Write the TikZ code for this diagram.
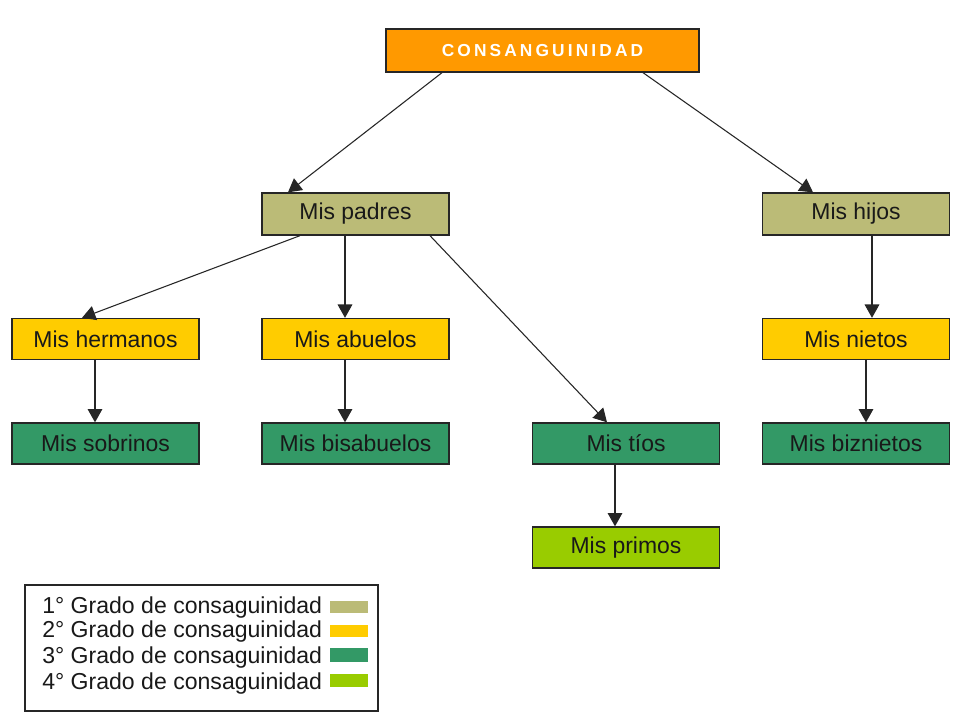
\documentclass[tikz,border=0pt]{standalone}
\usepackage{fontspec}
\setmainfont{Liberation Sans}
\usetikzlibrary{arrows.meta,calc}
\definecolor{cOrange}{RGB}{255,153,0}
\definecolor{cOlive}{RGB}{187,187,119}
\definecolor{cGold}{RGB}{255,204,0}
\definecolor{cGreen}{RGB}{51,153,102}
\definecolor{cLime}{RGB}{153,204,0}
\tikzset{
  box/.style={draw=black!85, line width=1pt, rectangle, minimum width=140.25pt,
    minimum height=30.75pt, inner sep=0pt, font=\fontsize{17.2}{20}\selectfont, text=black!90},
  conn/.style={draw=black!85, line width=0.8pt, -{Triangle[width=11pt,length=10pt]}},
  legtext/.style={anchor=base west, inner sep=0pt, font=\fontsize{17.3}{20}\selectfont, text=black!90},
}
\begin{document}
\begin{tikzpicture}[x=0.75pt,y=-0.75pt]
\useasboundingbox (0,0) rectangle (960,720);
\fill[white] (0,0) rectangle (960,720);
% nodes
\node[box, fill=cOrange, minimum width=234.75pt, minimum height=32.25pt,
  font=\fontsize{13}{15}\selectfont\bfseries\addfontfeature{LetterSpace=18}, text=white]
  (cons) at (542.5,50.5) {CONSANGUINIDAD};
\node[box, fill=cOlive, minimum height=31.5pt] (padres) at (355.5,214) {Mis padres};
\node[box, fill=cOlive, minimum height=31.5pt] (hijos) at (856,214) {Mis hijos};
\node[box, fill=cGold] (hermanos) at (105.5,339) {Mis hermanos};
\node[box, fill=cGold] (abuelos) at (355.5,339) {Mis abuelos};
\node[box, fill=cGold] (nietos) at (856,339) {Mis nietos};
\node[box, fill=cGreen] (sobrinos) at (105.5,443.5) {Mis sobrinos};
\node[box, fill=cGreen] (bisabuelos) at (355.5,443.5) {Mis bisabuelos};
\node[box, fill=cGreen] (tios) at (626,443.5) {Mis tíos};
\node[box, fill=cGreen] (biznietos) at (856,443.5) {Mis biznietos};
\node[box, fill=cLime] (primos) at (626,547.5) {Mis primos};
% connectors
\draw[conn] ($(cons.south)+(-100.5,0)$) -- ($(padres.north)+(-67.5,0)$);
\draw[conn] ($(cons.south)+(100.5,0)$) -- ($(hijos.north)+(-43,0)$);
\draw[conn] ($(padres.south)+(-55.5,0)$) -- ($(hermanos.north)+(-23.5,0)$);
\draw[conn] ($(padres.south)+(-10.5,0)$) -- ($(abuelos.north)+(-10.5,0)$);
\draw[conn] ($(padres.south)+(74.5,0)$) -- ($(tios.north)+(-19,0)$);
\draw[conn] ($(hijos.south)+(16,0)$) -- ($(nietos.north)+(16,0)$);
\draw[conn] ($(hermanos.south)+(-10.5,0)$) -- ($(sobrinos.north)+(-10.5,0)$);
\draw[conn] ($(abuelos.south)+(-10.5,0)$) -- ($(bisabuelos.north)+(-10.5,0)$);
\draw[conn] ($(nietos.south)+(10,0)$) -- ($(biznietos.north)+(10,0)$);
\draw[conn] ($(tios.south)+(-11,0)$) -- ($(primos.north)+(-11,0)$);
% legend
\draw[black!85, line width=1pt] (25,585) rectangle (378,711);
\node[legtext] (l1) at (42,613) {1° Grado de consaguinidad};
\node[legtext] (l2) at (42,637) {2° Grado de consaguinidad};
\node[legtext] (l3) at (42,663) {3° Grado de consaguinidad};
\node[legtext] (l4) at (42,689) {4° Grado de consaguinidad};
\fill[cOlive] (330,601) rectangle (368,613);
\fill[cGold] (330,625) rectangle (368,637);
\fill[cGreen] (330,648) rectangle (368,662);
\fill[cLime] (330,674) rectangle (368,687);
\end{tikzpicture}
\end{document}
